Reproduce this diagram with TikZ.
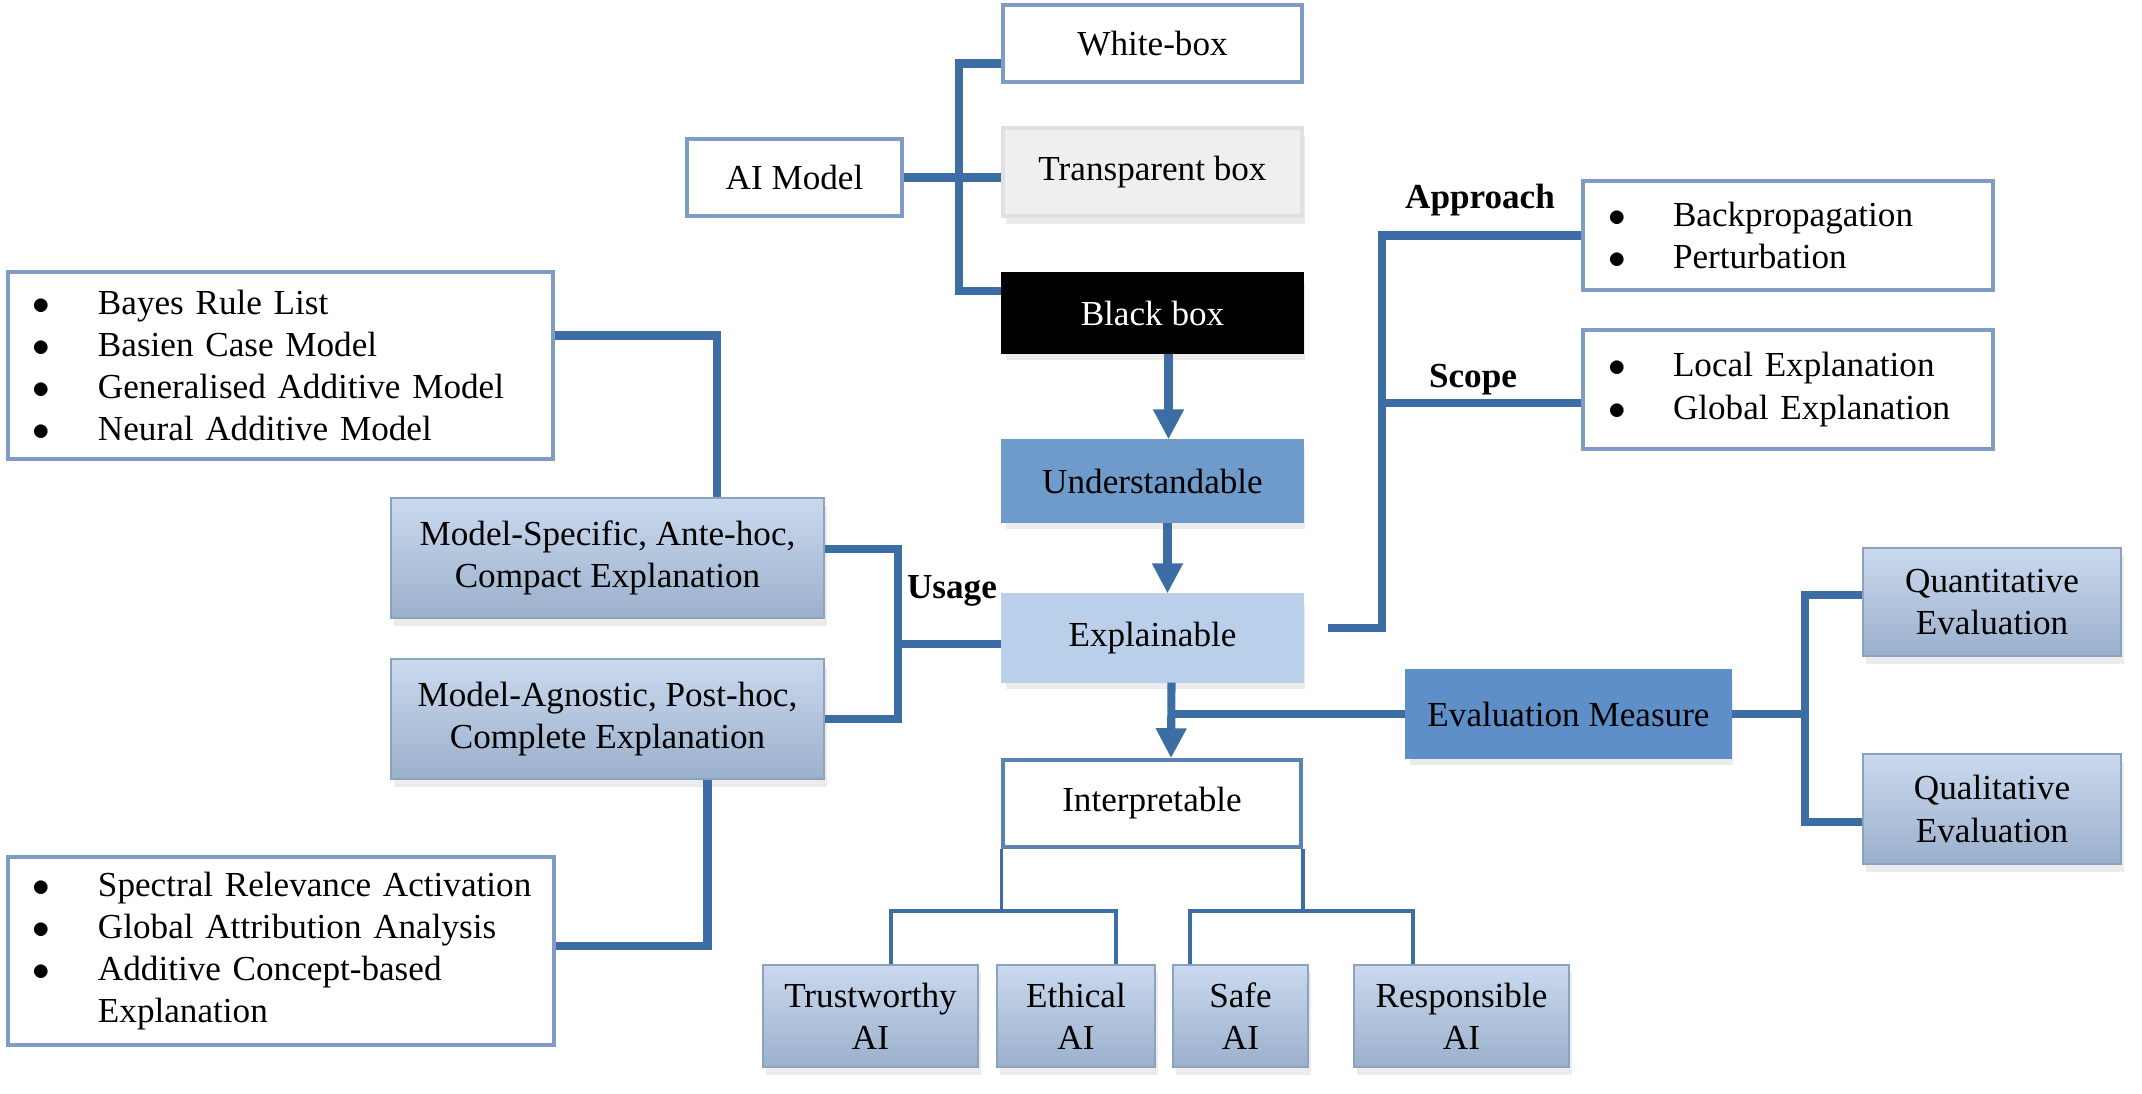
\documentclass[tikz,border=0pt]{standalone}
\usepackage{fontspec}
\setmainfont{Liberation Serif}
\usepackage{xcolor}
\usetikzlibrary{calc,arrows.meta,shadows}
\definecolor{lineblue}{HTML}{3D6DA5}
\definecolor{rimblue}{HTML}{7F9CC4}
\definecolor{greybox}{HTML}{EFEFEF}
\definecolor{midblue}{HTML}{6F9BCB}
\definecolor{deepblue}{HTML}{5E8FC8}
\definecolor{paleblue}{HTML}{BAD0EA}
\definecolor{shadetop}{HTML}{CAD9EE}
\definecolor{shadebot}{HTML}{9BB0CC}
\definecolor{shaderim}{HTML}{8DA2BF}
\newcommand{\bul}{\hspace*{1.3mm}\makebox[6.5mm][l]{$\bullet$}}

\begin{document}
\begin{tikzpicture}[font=\fontsize{10}{12}\selectfont,
	box/.style={draw=rimblue, line width=0.9pt, fill=white, align=center, inner sep=0pt},
	listbox/.style={box, align=left, inner xsep=1.2mm, inner ysep=0pt},
	soft/.style={drop shadow={opacity=0.15, shadow xshift=0.3mm, shadow yshift=-0.8mm}},
	shadebox/.style={draw=shaderim, line width=0.7pt, top color=shadetop, bottom color=shadebot, align=center, inner sep=0pt, soft},
	conn/.style={draw=lineblue, line width=2.3pt},
	thinconn/.style={draw=lineblue, line width=1pt},
	flow/.style={conn, -{Triangle[length=3mm,width=2.9mm]}},
	tag/.style={font=\fontsize{10}{12}\selectfont\bfseries}]
		\useasboundingbox (0,0) rectangle (21.42,-10.93);
		% model kinds
		\node[box, minimum width=2.15cm, minimum height=0.77cm] (aim) at (7.945,-1.775) {AI Model};
		\node[box, minimum width=2.99cm, minimum height=0.77cm] (wb) at (11.525,-0.435) {White-box};
		\node[box, draw=black!12, fill=greybox, soft, minimum width=2.99cm, minimum height=0.88cm] (tb) at (11.525,-1.72) {Transparent box};
		\node[box, draw=black, fill=black, text=white, soft, minimum width=2.99cm, minimum height=0.78cm] (bb) at (11.525,-3.13) {Black box};
		% main chain
		\node[box, draw=midblue, fill=midblue, soft, minimum width=2.99cm, minimum height=0.80cm] (und) at (11.525,-4.81) {Understandable};
		\node[box, draw=paleblue, fill=paleblue, soft, minimum width=2.99cm, minimum height=0.86cm] (exp) at (11.525,-6.38) {Explainable};
		\node[box, draw=lineblue!85, line width=1pt, minimum width=2.98cm, minimum height=0.87cm] (int) at (11.52,-8.035) {Interpretable};
		% bottom row
		\node[shadebox, minimum width=2.15cm, minimum height=1.02cm] (trust) at (8.705,-10.16) {Trustworthy\\AI};
		\node[shadebox, minimum width=1.58cm, minimum height=1.02cm] (ethical) at (10.76,-10.16) {Ethical\\AI};
		\node[shadebox, minimum width=1.35cm, minimum height=1.02cm] (safe) at (12.405,-10.16) {Safe\\AI};
		\node[shadebox, minimum width=2.15cm, minimum height=1.02cm] (resp) at (14.615,-10.16) {Responsible\\AI};
		% usage side
		\node[shadebox, minimum width=4.33cm, minimum height=1.2cm] (spec) at (6.075,-5.58) {Model-Specific, Ante-hoc,\\Compact Explanation};
		\node[shadebox, minimum width=4.33cm, minimum height=1.2cm] (agn) at (6.075,-7.19) {Model-Agnostic, Post-hoc,\\Complete Explanation};
		\node[listbox, text width=5.21cm, minimum height=1.87cm] (bayes) at (2.805,-3.655) {\bul Bayes Rule List\\ \bul Basien Case Model\\ \bul Generalised Additive Model\\ \bul Neural Additive Model};
		\node[listbox, text width=5.22cm, minimum height=1.88cm] (spectral) at (2.81,-9.51) {\bul Spectral Relevance Activation\\ \bul Global Attribution Analysis\\ \bul Additive Concept-based\\ \hspace*{7.8mm}Explanation};
		% approach, scope, evaluation
		\node[listbox, text width=3.86cm, minimum height=1.09cm] (appr) at (17.88,-2.355) {\bul Backpropagation\\ \bul Perturbation};
		\node[listbox, text width=3.86cm, minimum height=1.19cm] (scope) at (17.88,-3.895) {\bul Local Explanation\\ \bul Global Explanation};
		\node[box, draw=deepblue, fill=deepblue, soft, minimum width=3.23cm, minimum height=0.86cm] (eval) at (15.685,-7.14) {Evaluation Measure};
		\node[shadebox, minimum width=2.58cm, minimum height=1.08cm] (quant) at (19.92,-6.02) {Quantitative\\Evaluation};
		\node[shadebox, minimum width=2.58cm, minimum height=1.10cm] (qual) at (19.92,-8.09) {Qualitative\\Evaluation};
		\node[tag] (apprtag) at (14.80,-2.00) {Approach};
		\node[tag] (scopetag) at (14.73,-3.80) {Scope};
		\node[tag] (usetag) at (9.52,-5.91) {Usage};
		% junction points
		\coordinate (mtrunk) at (9.59,-1.775);
		\coordinate (utrunk) at (8.98,-6.44);
		\coordinate (etrunk) at (18.05,-7.14);
		\coordinate (atrunk) at ([xshift=-19.9mm]appr.west);
		\coordinate (xstart) at ([xshift=2.4mm,yshift=1mm]exp.east);
		\coordinate (ejoin) at ([xshift=1.9mm]exp.south |- eval.west);
		\coordinate (il) at ([yshift=-6.2mm]int.south west);
		\coordinate (ir) at ([yshift=-6.2mm]int.south east);
		% connectors
		\draw[conn] (aim.east) -- (aim.east -| tb.west);
		\draw[conn] ([yshift=-2mm]wb.west) -| (mtrunk) |- ([yshift=2.2mm]bb.west);
		\draw[flow] ([xshift=1.6mm]bb.south) -- ([xshift=1.6mm]und.north);
		\draw[flow] ([xshift=1.5mm]und.south) -- ([xshift=1.5mm]exp.north);
		\draw[flow] ([xshift=1.9mm]exp.south) -- ([xshift=1.9mm]int.north);
		\draw[conn] (eval.west) -- (ejoin);
		\draw[conn] (eval.east) -- (etrunk);
		\draw[conn] ([yshift=0.7mm]quant.west) -| (etrunk) |- ([yshift=-1.3mm]qual.west);
		\draw[conn] (xstart) -| (atrunk) -- (appr.west);
		\draw[conn] ([yshift=-1.35mm]scope.west) -- ([yshift=-1.35mm]scope.west -| atrunk);
		\draw[conn] ([yshift=0.9mm]spec.east) -| (utrunk) |- (agn.east);
		\draw[conn] (utrunk) -- (utrunk -| exp.west);
		\draw[conn] ([yshift=3mm]bayes.east) -| ([xshift=10.95mm]spec.north);
		\draw[conn] ([xshift=10mm]agn.south) |- ([yshift=0.5mm]spectral.east);
		\draw[thinconn] (int.south west) -- (il);
		\draw[thinconn] ([xshift=2.05mm]trust.north) |- (il) -| ([xshift=4mm]ethical.north);
		\draw[thinconn] (int.south east) -- (ir);
		\draw[thinconn] ([xshift=-5.05mm]safe.north) |- (ir) -| ([xshift=-4.85mm]resp.north);
	\end{tikzpicture}
\end{document}
